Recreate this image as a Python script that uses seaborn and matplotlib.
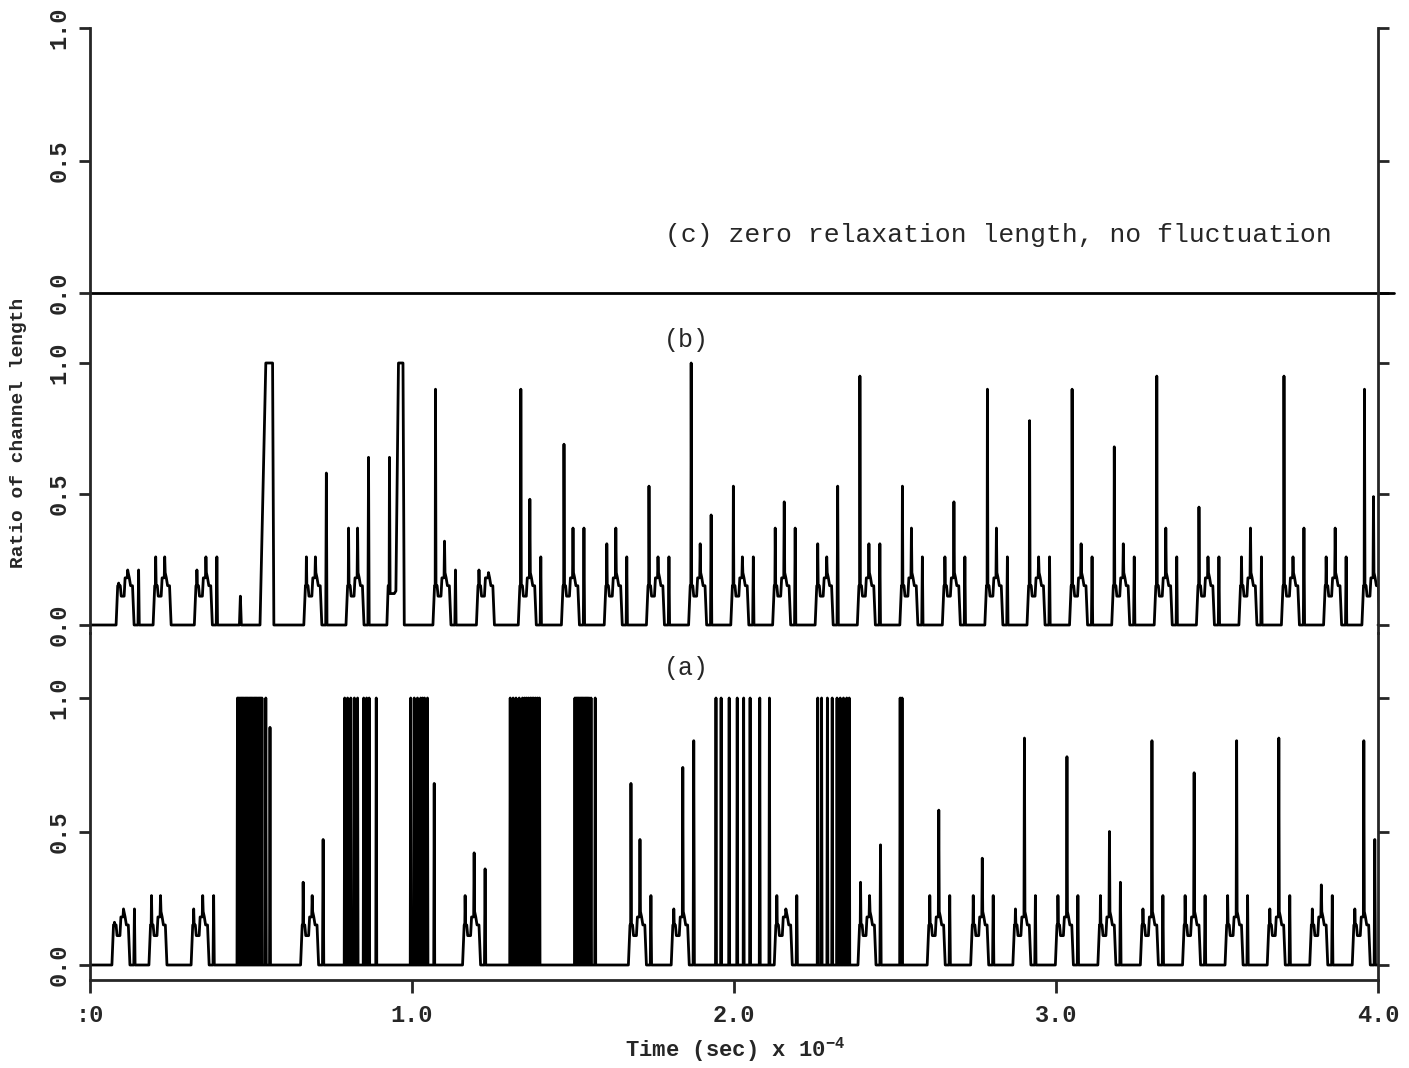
import numpy as np
import pandas as pd
import matplotlib
matplotlib.use("Agg")
import matplotlib.pyplot as plt
import seaborn as sns

# ---------------- data (time in units of 1e-4 s) ----------------
# generic cluster shape: offsets from cluster start and levels;
# "h1", "h2", "h3" are the three needle slots of a cluster
TEMPLATE_DT = [0.000, 0.005, 0.007, 0.008, 0.0095, 0.013, 0.016, 0.025, 0.028,
               0.0345, 0.036, 0.0375, 0.041, 0.045, 0.051, 0.056, 0.068, 0.070, 0.072]
TEMPLATE_Y = [0.00, 0.15, 0.15, "h1", 0.15, 0.15, 0.11, 0.11, 0.18,
              0.18, "h2", 0.20, 0.18, 0.15, 0.15, 0.00, 0.00, "h3", 0.00]

# panel (b)
B_CLUSTER_T = [0.081, 0.196, 0.324, 0.664, 0.795, 1.065, 1.200, 1.330, 1.464, 1.597,
               1.728, 1.859, 1.990, 2.120, 2.252, 2.383, 2.515, 2.647, 2.779, 2.910,
               3.042, 3.173, 3.305, 3.436, 3.568, 3.700, 3.831, 3.950]
B_H1 = [0.16, 0.26, 0.21, 0.26, 0.37, 0.90, 0.21, 0.90, 0.69, 0.31,
        0.53, 1.00, 0.53, 0.37, 0.31, 0.95, 0.53, 0.26, 0.90, 0.78,
        0.90, 0.68, 0.95, 0.45, 0.26, 0.95, 0.26, 0.90]
B_H2 = [0.21, 0.26, 0.26, 0.26, 0.37, 0.32, 0.18, 0.48, 0.37, 0.37,
        0.26, 0.31, 0.26, 0.47, 0.26, 0.31, 0.37, 0.47, 0.37, 0.26,
        0.31, 0.31, 0.37, 0.26, 0.37, 0.26, 0.37, 0.49]
B_H3 = [0.21, 0.00, 0.26, 0.58, 0.64, 0.21, 0.00, 0.26, 0.37, 0.26,
        0.26, 0.42, 0.26, 0.37, 0.53, 0.31, 0.26, 0.26, 0.26, 0.26,
        0.26, 0.26, 0.26, 0.26, 0.26, 0.37, 0.26, 0.00]
# irregular events of panel (b)
B_SPECIAL_T = [[0.464, 0.467, 0.470],
               [0.528, 0.546, 0.567, 0.571],
               [0.922, 0.926, 0.929, 0.930, 0.932, 0.945, 0.950, 0.958, 0.972, 0.976]]
B_SPECIAL_Y = [[0.00, 0.11, 0.00],
               [0.00, 1.00, 1.00, 0.00],
               [0.00, 0.15, 0.15, 0.64, 0.12, 0.12, 0.13, 1.00, 1.00, 0.00]]

# panel (a)
A_CLUSTER_T = [0.068, 0.183, 0.314, 0.654, 1.157, 1.672, 1.805, 2.125,
               2.385, 2.600, 2.735, 2.866, 2.998, 3.130, 3.262, 3.393, 3.525, 3.656, 3.788, 3.920]
A_H1 = [0.16, 0.26, 0.21, 0.31, 0.26, 0.68, 0.21, 0.26,
        0.31, 0.26, 0.26, 0.21, 0.26, 0.26, 0.21, 0.26, 0.26, 0.21, 0.21, 0.21]
A_H2 = [0.21, 0.26, 0.26, 0.26, 0.42, 0.47, 0.74, 0.21,
        0.26, 0.58, 0.40, 0.85, 0.78, 0.50, 0.84, 0.72, 0.84, 0.85, 0.30, 0.84]
A_H3 = [0.21, 0.00, 0.26, 0.47, 0.36, 0.26, 0.84, 0.26,
        0.45, 0.26, 0.26, 0.26, 0.26, 0.31, 0.26, 0.26, 0.26, 0.26, 0.26, 0.47]
# needles of the bursts in panel (a)
A_PULSE_T = [0.458, 0.462, 0.466, 0.470, 0.474, 0.478, 0.482, 0.486, 0.490, 0.494,
             0.498, 0.502, 0.506, 0.510, 0.514, 0.518, 0.522, 0.526, 0.530, 0.534,
             0.546, 0.559,
             0.791, 0.800, 0.810, 0.821, 0.831, 0.850, 0.859, 0.867, 0.889,
             0.996, 1.007, 1.017, 1.027, 1.033, 1.039, 1.048, 1.069,
             1.305, 1.314, 1.323, 1.333, 1.343, 1.350, 1.356, 1.362, 1.368, 1.373,
             1.378, 1.384, 1.390, 1.396,
             1.506, 1.510, 1.514, 1.518, 1.522, 1.526, 1.530, 1.534, 1.538, 1.542,
             1.546, 1.550, 1.556, 1.569,
             1.944, 1.960, 1.985, 2.010, 2.030, 2.050, 2.080, 2.110,
             2.260, 2.272, 2.290, 2.305, 2.320, 2.330, 2.340, 2.350, 2.358,
             2.516, 2.522]
A_PULSE_H = [1.0] * 21 + [0.89] + [1.0] * 9 + [1.0] * 7 + [0.68] + [1.0] * 14 + \
            [1.0] * 14 + [1.0] * 8 + [1.0] * 9 + [1.0, 1.0]

C_T = [0.0, 4.05]
C_Y = [0.0, 0.0]


# ---------------- build step traces ----------------
def cluster_segment(t0, h1, h2, h3):
    hs = {"h1": h1, "h2": h2, "h3": h3}
    ts, ys = [], []
    for dt, y in zip(TEMPLATE_DT, TEMPLATE_Y):
        if y == "h3" and h3 <= 0:
            continue
        ts.append(t0 + dt)
        ys.append(hs[y] if isinstance(y, str) else y)
    return ts, ys


def pulse_segment(tp, h):
    return [tp - 0.0015, tp, tp + 0.0015], [0.0, h, 0.0]


def assemble(segments):
    segments = sorted(segments, key=lambda s: s[0][0])
    ts, ys = [0.0], [0.0]
    for st, sy in segments:
        ts.extend(st)
        ys.extend(sy)
    ts.append(4.0)
    ys.append(0.0)
    return pd.DataFrame({"t": ts, "ratio": ys})


seg_b = [cluster_segment(*v) for v in zip(B_CLUSTER_T, B_H1, B_H2, B_H3)]
seg_b += list(zip(B_SPECIAL_T, B_SPECIAL_Y))
df_b = assemble(seg_b)

seg_a = [cluster_segment(*v) for v in zip(A_CLUSTER_T, A_H1, A_H2, A_H3)]
seg_a += [pulse_segment(t, h) for t, h in zip(A_PULSE_T, A_PULSE_H)]
df_a = assemble(seg_a)

df_c = pd.DataFrame({"t": C_T, "ratio": C_Y})

# ---------------- figure ----------------
sns.set_style("ticks")
plt.rcParams["font.family"] = ["Liberation Mono", "DejaVu Sans"]
plt.rcParams["mathtext.fontset"] = "custom"
plt.rcParams["mathtext.rm"] = "Liberation Mono"
plt.rcParams["mathtext.bf"] = "Liberation Mono:bold"

W, H = 1409, 1068
fig = plt.figure(figsize=(W / 100, H / 100), dpi=100)
L, R = 90, 1378


def add_axes(top, bot):
    return fig.add_axes([L / W, 1 - bot / H, (R - L) / W, (bot - top) / H])


ax_c = add_axes(28, 293)
ax_b = add_axes(293, 633)
ax_a = add_axes(633, 980)
for ax in (ax_c, ax_b, ax_a):
    ax.patch.set_alpha(0)

LW = 2.0
sns.lineplot(data=df_c, x="t", y="ratio", ax=ax_c, color="black", lw=LW,
             estimator=None, sort=False, clip_on=False)
sns.lineplot(data=df_b, x="t", y="ratio", ax=ax_b, color="black", lw=LW,
             estimator=None, sort=False)
sns.lineplot(data=df_a, x="t", y="ratio", ax=ax_a, color="black", lw=LW,
             estimator=None, sort=False)

ax_c.set_ylim(0, 1.0)
ax_b.set_ylim(-8 / 262, 332 / 262)
ax_a.set_ylim(-15 / 267, 332 / 267)

for ax in (ax_c, ax_b, ax_a):
    ax.set_xlim(0, 4.0)
    ax.set_xlabel("")
    ax.set_ylabel("")
    ax.spines["top"].set_visible(False)
    ax.spines["right"].set_visible(True)
    ax.spines["left"].set_linewidth(2.0)
    ax.spines["right"].set_linewidth(2.0)
    ax.set_yticks([0.0, 0.5, 1.0])
    ax.set_yticklabels(["0.0", "0.5", "1.0"], rotation=90, va="center",
                       fontsize=17, fontweight="bold")
    ax.tick_params(axis="y", which="both", direction="out", length=8, width=2,
                   left=True, right=True, labelleft=True, labelright=False, pad=6)
    if ax is not ax_a:
        ax.spines["bottom"].set_visible(False)
        ax.tick_params(axis="x", bottom=False, labelbottom=False)

ax_a.spines["bottom"].set_linewidth(2.0)
ax_a.set_xticks([0, 1, 2, 3, 4])
ax_a.set_xticklabels([":0", "1.0", "2.0", "3.0", "4.0"], fontsize=17, fontweight="bold")
ax_a.tick_params(axis="x", direction="out", length=9, width=2, pad=8)

# panel captions
ax_c.text(1.786, 0.22, "(c) zero relaxation length, no fluctuation",
          fontsize=19, ha="left", va="center")
ax_b.text(1.851, 1.088, "(b)", fontsize=18, ha="center", va="center")
ax_a.text(1.851, 1.112, "(a)", fontsize=18, ha="center", va="center")

fig.text(0.0128, 1 - 433 / H, "Ratio of channel length", rotation=90,
         fontsize=14, fontweight="bold", ha="center", va="center")
fig.text(0.5216, 1 - 1050 / H, r"Time (sec) x 10$^{\mathbf{-4}}$",
         fontsize=16, fontweight="bold", ha="center", va="center")

fig.savefig("out.png", dpi=100)
